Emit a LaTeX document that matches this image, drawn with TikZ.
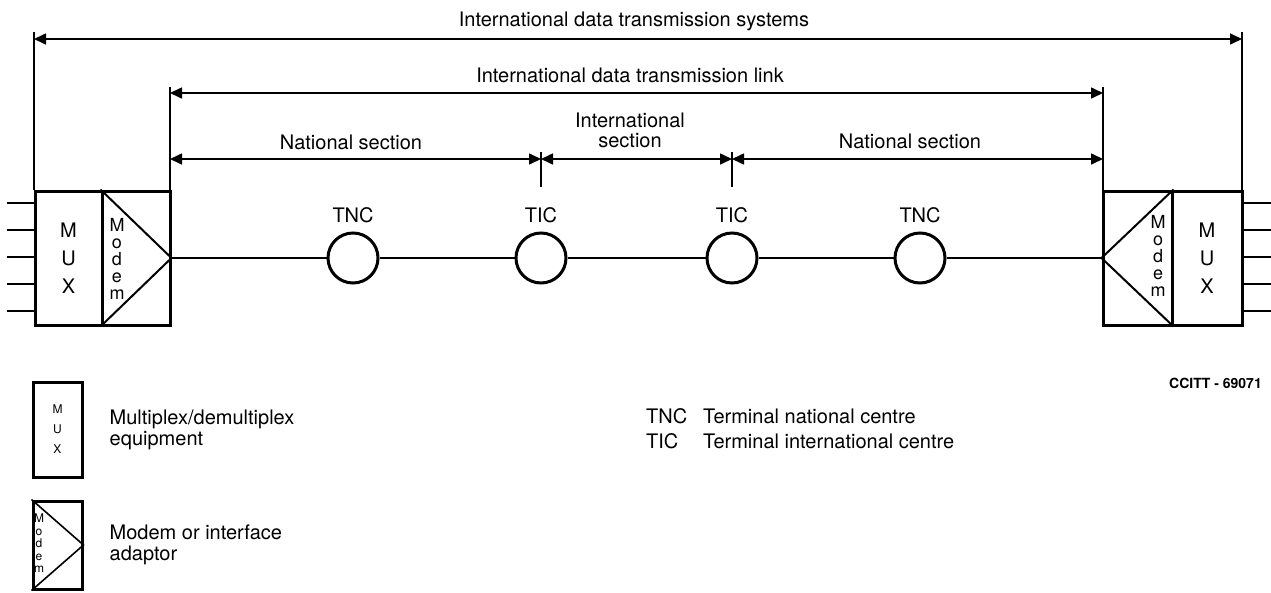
\documentclass[tikz,border=0pt]{standalone}
\usepackage{fontspec}
\setmainfont{TeX Gyre Heros}
\usetikzlibrary{arrows.meta,positioning}

\begin{document}
\begin{tikzpicture}[x=1pt, y=-1pt,
    font=\fontsize{20}{21}\selectfont,
    txt/.style={inner sep=0pt},
    unit/.style={draw, line width=3pt, minimum height=134pt, inner sep=0pt},
    hub/.style={draw, circle, line width=3pt, minimum size=50pt, inner sep=0pt},
    tag/.style={label={[anchor=base, label distance=9.5pt]90:#1}},
    dim/.style={{Triangle[length=12pt,width=11pt]}-{Triangle[length=12pt,width=11pt]}, line width=1.6pt},
    tick/.style={line width=1.6pt},
    wire/.style={line width=2pt},
    stub/.style={line width=2.5pt}]
  \useasboundingbox (0,0) rectangle (1271,592);

  % Terminal equipment, left
  \node[unit, minimum width=67pt, align=center, font=\fontsize{20}{28}\selectfont] (muxL) at (68.5,258) {M\\U\\X};
  \node[unit, minimum width=68pt] (modL) at (136,258) {};
  \draw[wire] (modL.north west) -- (modL.east) -- (modL.south west);
  \node[txt, anchor=north, align=center, font=\fontsize{18}{17}\selectfont] (modtxtL) at (117,218) {M\\o\\d\\e\\m};
  \foreach \y in {203,230,257,284,311}
    \draw[stub] (muxL.west |- 0,\y) -- ++(-27,0);

  % Terminal equipment, right
  \node[unit, minimum width=70pt, align=center, font=\fontsize{20}{28}\selectfont] (muxR) at (1207,258) {M\\U\\X};
  \node[unit, minimum width=69pt] (modR) at (1137.5,258) {};
  \draw[wire] (modR.north east) -- (modR.west) -- (modR.south east);
  \node[txt, anchor=north, align=center, font=\fontsize{18}{17}\selectfont] (modtxtR) at (1158,215) {M\\o\\d\\e\\m};
  \foreach \y in {203,230,257,284,311}
    \draw[stub] (muxR.east |- 0,\y) -- ++(27,0);

  % Centres along the link
  \node[hub, tag=TNC] (tnc1) at (353,258) {};
  \node[hub, tag=TIC] (tic1) at (541,258) {};
  \node[hub, tag=TIC] (tic2) at (732,258) {};
  \node[hub, tag=TNC] (tnc2) at (920,258) {};
  \draw[wire] (modL.east) -- (tnc1) -- (tic1) -- (tic2) -- (tnc2) -- (modR.west);

  % Systems
  \coordinate (sysL) at (34,39);
  \coordinate (sysR) at (1242,39);
  \draw[dim] (sysL) -- (sysR);
  \draw[tick] ([yshift=7pt]sysL) -- (sysL |- muxL.north);
  \draw[tick] ([yshift=7pt]sysR) -- (sysR |- muxR.north);
  \node[txt, anchor=base] (systxt) at (634,26) {International data transmission systems};

  % Link
  \coordinate (linkL) at (170,93);
  \coordinate (linkR) at (1103,93);
  \draw[dim] (linkL) -- (linkR);
  \draw[tick] ([yshift=6pt]linkL) -- (linkL |- modL.north);
  \draw[tick] ([yshift=6pt]linkR) -- (linkR |- modR.north);
  \node[txt, anchor=base] (linktxt) at (630,82) {International data transmission link};

  % Sections
  \coordinate (secL) at (170,159);
  \coordinate (secA) at (541,159);
  \coordinate (secB) at (732,159);
  \coordinate (secR) at (1103,159);
  \draw[dim] (secL) -- (secA);
  \draw[dim] (secA) -- (secB);
  \draw[dim] (secB) -- (secR);
  \draw[tick] ([yshift=7pt]secA) -- ++(0,35);
  \draw[tick] ([yshift=7pt]secB) -- ++(0,35);
  \node[txt, anchor=base] (nattxtL) at (351,149) {National section};
  \node[txt, anchor=south, align=center, font=\fontsize{20}{20}\selectfont] (inttxt) at (630,148) {International\\section};
  \node[txt, anchor=base] (nattxtR) at (910,148) {National section};

  \node[txt, anchor=base east, font=\bfseries\fontsize{14}{16}\selectfont] (ref) at (1262,388) {CCITT - 69071};

  % Legend
  \node[draw, line width=3pt, minimum width=49pt, minimum height=95pt, inner sep=0pt,
        align=center, font=\fontsize{12}{20}\selectfont] (legmux) at (57.5,429.5) {M\\U\\X};
  \node[txt, right=26pt of legmux, align=left] (legmuxtxt) {Multiplex/demultiplex\\equipment};

  \node[draw, line width=3pt, minimum width=49pt, minimum height=88pt, inner sep=0pt] (legmod) at (57.5,545) {};
  \draw[line width=1.6pt] (legmod.north west) -- (legmod.east) -- (legmod.south west);
  \node[txt, anchor=north, align=center, font=\fontsize{12}{12.5}\selectfont] (legmodtxt) at (39,514) {M\\o\\d\\e\\m};
  \node[txt, right=26pt of legmod, align=left] (legmodlbl) {Modem or interface\\adaptor};

  \node[txt, anchor=base west] (keytnc) at (646,423) {TNC};
  \node[txt, anchor=base west] (keytnctxt) at (703,423) {Terminal national centre};
  \node[txt, anchor=base west] (keytic) at (646,448) {TIC};
  \node[txt, anchor=base west] (keytictxt) at (703,448) {Terminal international centre};
\end{tikzpicture}
\end{document}
